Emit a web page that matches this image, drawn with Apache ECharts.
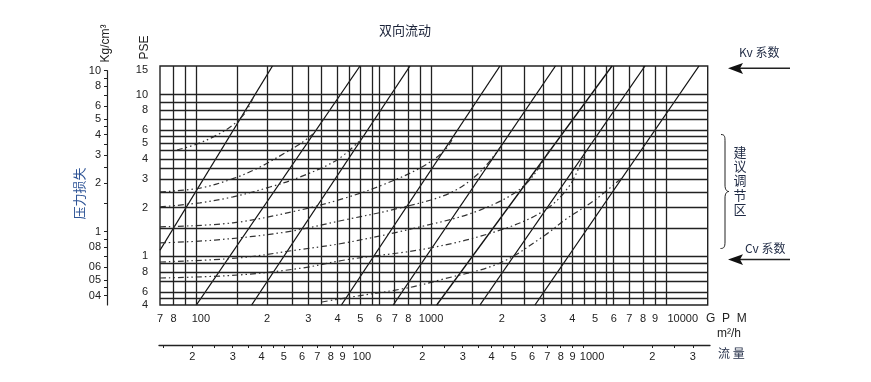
<!DOCTYPE html>
<html><head><meta charset="utf-8">
<script src="https://cdn.jsdelivr.net/npm/echarts@6/dist/echarts.min.js"></script>
<style>html,body{margin:0;padding:0;background:#fff}#c{width:871px;height:382px}</style>
</head><body><div id="c"></div>
<script>
// ---- valve size lines (flow in GPM, pressure drop in PSE) ----
const valveSizes   = ['2', '3', '4', '6', '8', '10', '12', '16'];
const lineTopFlow  = [211, 498, 813, 1966, 3388, 5903, 8154, 13850];
const lineTopPress = [15, 15, 15, 15, 15, 15, 15, 15];
const lineLowFlow  = [70, 100, 172, 415, 690, 1057, 1616, 2771];
const lineLowPress = [1.09, 0.5, 0.5, 0.5, 0.5, 0.5, 0.5, 0.5];

// ---- recommended regulating zone curves (dash-dot) ----
const zone2Flow  = [82.7, 100.6, 122.4, 143.2, 161.1, 174.3];
const zone2Press = [4.54, 4.94, 5.62, 6.48, 7.68, 9.51];
const zone3Flow  = [70, 103.6, 146, 186.6, 238.5, 276.3, 314];
const zone3Press = [2.50, 2.64, 3.05, 3.56, 4.35, 4.94, 5.70];
const zone4Flow  = [70, 103.6, 143.2, 205.9, 276.3, 397.2, 500];
const zone4Press = [2.02, 2.14, 2.33, 2.68, 3.09, 3.94, 5.23];
const zone6Flow  = [70, 143.2, 276.3, 429.7, 605.8, 896.8, 1146.8, 1275];
const zone6Press = [1.52, 1.61, 1.93, 2.29, 2.72, 3.51, 4.54, 5.87];
const zone8Flow  = [70, 120, 238.5, 429.7, 737, 1204, 1616, 2030];
const zone8Press = [1.21, 1.26, 1.41, 1.68, 1.99, 2.46, 3.32, 5.01];
const zone10Flow  = [70, 150.4, 263.1, 429.7, 896.8, 1616, 2513, 3250];
const zone10Press = [0.922, 0.976, 1.09, 1.21, 1.52, 1.93, 2.76, 4.74];
const zone12Flow  = [70, 150.4, 281.8, 429.7, 989.5, 1966, 3058, 3908, 4480];
const zone12Press = [0.734, 0.766, 0.846, 0.949, 1.125, 1.45, 1.93, 2.76, 4.23];
const zone16Flow  = [342.9, 429.7, 789.7, 1091, 1966, 3058, 3720, 4993, 6560];
const zone16Press = [0.522, 0.552, 0.637, 0.714, 0.909, 1.35, 1.68, 2.23, 3.09];
const zoneFlows  = [zone2Flow, zone3Flow, zone4Flow, zone6Flow, zone8Flow, zone10Flow, zone12Flow, zone16Flow];
const zonePresses = [zone2Press, zone3Press, zone4Press, zone6Press, zone8Press, zone10Press, zone12Press, zone16Press];

// ---- grid lines ----
const gpmGridValues = [80, 90, 100, 150, 200, 255, 300, 340, 400, 450, 500, 560, 600, 700, 800, 900, 1000,
  1500, 2000, 2500, 3000, 3600, 4000, 4500, 5000, 5600, 6000, 7000, 8000, 9000, 10000];
const pseGridValues = [10, 9, 8, 7, 6, 5.5, 5, 4.5, 4, 3.5, 3, 2.5, 2, 1.5, 1, 0.9, 0.8, 0.7, 0.6, 0.55];

// ---- tick labels ----
const gpmLabelValues = [70, 80, 100, 200, 300, 400, 500, 600, 700, 800, 1000, 2000, 3000, 4000, 5000, 6000, 7000, 8000, 9000, 10000];
const gpmLabelTexts  = ['7', '8', '100', '2', '3', '4', '5', '6', '7', '8', '1000', '2', '3', '4', '5', '6', '7', '8', '9', '10000'];
const pseLabelValues = [15, 10, 8, 6, 5, 4, 3, 2, 1, 0.8, 0.6, 0.5];
const pseLabelTexts  = ['15', '10', '8', '6', '5', '4', '3', '2', '1', '8', '6', '4'];
const kgTickValues   = [10, 9, 8, 7, 6, 5, 4.5, 4, 3.5, 3, 2.5, 2, 1.5, 1, 0.9, 0.8, 0.7, 0.6, 0.5, 0.45, 0.4];
const kgLabelValues  = [10, 8, 6, 5, 4, 3, 2, 1, 0.8, 0.6, 0.5, 0.4];
const kgLabelTexts   = ['10', '8', '6', '5', '4', '3', '2', '1', '08', '06', '05', '04'];
const m3hTickValues  = [15, 20, 25, 30, 35, 40, 45, 50, 60, 70, 80, 90, 100, 150, 200, 250, 300, 350, 400, 450, 500,
  600, 700, 800, 900, 1000, 1500, 2000, 2500, 3000];
const m3hLabelValues = [20, 30, 40, 50, 60, 70, 80, 90, 100, 200, 300, 400, 500, 600, 700, 800, 900, 1000, 2000, 3000];
const m3hLabelTexts  = ['2', '3', '4', '5', '6', '7', '8', '9', '100', '2', '3', '4', '5', '6', '7', '8', '9', '1000', '2', '3'];

const LATIN = "'Liberation Sans', Arial, 'Noto Sans CJK SC', sans-serif";
const CJK = "'Noto Sans CJK SC', 'Liberation Sans', sans-serif";
const INK = '#222';

function lookup(values, texts) {
  return function (v) {
    for (let i = 0; i < values.length; i++) {
      if (Math.abs(Math.log(v / values[i])) < 0.005) return texts[i];
    }
    return '';
  };
}
const gpmText = lookup(gpmLabelValues, gpmLabelTexts);
const m3hText = lookup(m3hLabelValues, m3hLabelTexts);
const pseText = lookup(pseLabelValues, pseLabelTexts);

const chart = echarts.init(document.getElementById('c'), null, { renderer: 'canvas' });

const series = [];
series.push({
  type: 'line', xAxisIndex: 0, yAxisIndex: 0, data: [], silent: true,
  markLine: {
    silent: true, symbol: ['none', 'none'], animation: false,
    label: { show: false },
    lineStyle: { color: INK, width: 1.3, type: 'solid' },
    data: gpmGridValues.map(v => ({ xAxis: v })).concat(pseGridValues.map(v => ({ yAxis: v })))
  }
});
valveSizes.forEach((s, i) => {
  series.push({
    type: 'line', xAxisIndex: 0, yAxisIndex: 0, silent: true, symbol: 'none',
    lineStyle: { color: '#111', width: 1.3 },
    data: [
      { value: [lineLowFlow[i], lineLowPress[i]] },
      { value: [lineTopFlow[i], lineTopPress[i]],
        label: { show: true, position: 'top', distance: 3, formatter: s, color: INK, fontSize: 11, fontFamily: LATIN } }
    ]
  });
});
zoneFlows.forEach((fl, i) => {
  series.push({
    type: 'line', xAxisIndex: 0, yAxisIndex: 0, silent: true, symbol: 'none', smooth: 0.35,
    lineStyle: { color: '#333', width: 1.2, type: [6, 3, 1.5, 3, 1.5, 3] },
    data: fl.map((q, j) => [q, zonePresses[i][j]])
  });
});

const option = {
  animation: false,
  backgroundColor: '#fff',
  grid: [
    { left: 160, top: 66, width: 547.7, height: 239, show: true, borderColor: INK, borderWidth: 1.4, containLabel: false },
    { left: 107, top: 70.7, width: 1, height: 234.3, show: false },
    { left: 159, top: 344, width: 551, height: 1, show: false }
  ],
  xAxis: [
    { type: 'log', gridIndex: 0, min: 70, max: 15090, position: 'bottom',
      axisLine: { show: false }, axisTick: { show: false }, splitLine: { show: false }, minorTick: { show: false },
      axisLabel: { customValues: gpmLabelValues, margin: 8, color: INK, fontSize: 11, fontFamily: LATIN,
        formatter: v => { const t = gpmText(v); return t === '100' ? '{a|100}' : (t === '10000' ? '{b|10000}' : t); },
        rich: { a: { padding: [0, 0, 0, 9], fontSize: 11, color: INK, fontFamily: LATIN },
                b: { padding: [0, 0, 0, 34], fontSize: 11, color: INK, fontFamily: LATIN } } } },
    { type: 'value', gridIndex: 1, show: false },
    { type: 'log', gridIndex: 2, min: 14.34, max: 3565, position: 'bottom',
      axisLine: { show: true, lineStyle: { color: INK, width: 1.3 } },
      axisTick: { show: true, customValues: m3hTickValues, length: 3, inside: false, lineStyle: { color: INK, width: 1 } },
      splitLine: { show: false }, minorTick: { show: false },
      axisLabel: { customValues: m3hLabelValues, margin: 6, color: INK, fontSize: 11, fontFamily: LATIN,
        formatter: v => { const t = m3hText(v); return (t === '100' || t === '1000') ? '{a|' + t + '}' : t; },
        rich: { a: { padding: [0, 0, 0, 18], fontSize: 11, color: INK, fontFamily: LATIN } } } }
  ],
  yAxis: [
    { type: 'log', gridIndex: 0, min: 0.5, max: 15,
      axisLine: { show: false }, axisTick: { show: false }, splitLine: { show: false }, minorTick: { show: false },
      axisLabel: { customValues: pseLabelValues, margin: 12, color: INK, fontSize: 11, fontFamily: LATIN,
        formatter: v => { const t = pseText(v); return t === '15' ? '{t|15}' : t; },
        rich: { t: { padding: [8, 0, 0, 0], fontSize: 11, color: INK, fontFamily: LATIN } } } },
    { type: 'log', gridIndex: 1, min: 0.35, max: 10, position: 'left',
      axisLine: { show: true, lineStyle: { color: INK, width: 1.2 } },
      axisTick: { show: true, customValues: kgTickValues, length: 3, inside: false, lineStyle: { color: INK, width: 1 } },
      splitLine: { show: false }, minorTick: { show: false },
      axisLabel: { customValues: kgLabelValues, margin: 6, color: INK, fontSize: 11, fontFamily: LATIN,
        formatter: lookup(kgLabelValues, kgLabelTexts) } },
    { type: 'value', gridIndex: 2, show: false }
  ],
  series: series,
  graphic: [
    { type: 'text', x: 105.5, y: 43.5, rotation: Math.PI / 2,
      style: { text: 'Kg/cm³', fill: INK, font: '12px ' + LATIN, textAlign: 'center', textVerticalAlign: 'middle', align: 'center', verticalAlign: 'middle' } },
    { type: 'text', x: 144.5, y: 47.5, rotation: Math.PI / 2,
      style: { text: 'PSE', fill: INK, font: '12px ' + LATIN, textAlign: 'center', textVerticalAlign: 'middle', align: 'center', verticalAlign: 'middle' } },
    { type: 'text', x: 79, y: 193.5, rotation: Math.PI / 2,
      style: { text: '压力损失', fill: '#2f5597', font: '13px ' + CJK, textAlign: 'center', textVerticalAlign: 'middle', align: 'center', verticalAlign: 'middle' } },
    { type: 'text', x: 405, y: 30,
      style: { text: '双向流动', fill: '#1a2238', font: '13px ' + CJK, textAlign: 'center', textVerticalAlign: 'middle', align: 'center', verticalAlign: 'middle' } },
    { type: 'text', x: 739, y: 52.7,
      style: { text: 'Kv 系数', fill: '#1f2a44', font: '12px ' + CJK, textAlign: 'left', textVerticalAlign: 'middle', align: 'left', verticalAlign: 'middle' } },
    { type: 'text', x: 745, y: 248.3,
      style: { text: 'Cv 系数', fill: '#1f2a44', font: '12px ' + CJK, textAlign: 'left', textVerticalAlign: 'middle', align: 'left', verticalAlign: 'middle' } },
    { type: 'text', x: 740, y: 180.5,
      style: { text: '建\n议\n调\n节\n区', fill: '#1f2a44', font: '13px ' + CJK, lineHeight: 14.2, textAlign: 'center', textVerticalAlign: 'middle', align: 'center', verticalAlign: 'middle' } },
    { type: 'text', x: 706, y: 318.5,
      style: { text: 'G  P  M', fill: INK, font: '12px ' + LATIN, textAlign: 'left', textVerticalAlign: 'middle', align: 'left', verticalAlign: 'middle' } },
    { type: 'text', x: 717, y: 334,
      style: { text: 'm²/h', fill: INK, font: '12px ' + LATIN, textAlign: 'left', textVerticalAlign: 'middle', align: 'left', verticalAlign: 'middle' } },
    { type: 'text', x: 718, y: 353,
      style: { text: '流 量', fill: '#1f2a44', font: '12px ' + CJK, textAlign: 'left', textVerticalAlign: 'middle', align: 'left', verticalAlign: 'middle' } },
    // arrows
    { type: 'line', shape: { x1: 739, y1: 68.3, x2: 790, y2: 68.3 }, style: { stroke: INK, lineWidth: 1.6 } },
    { type: 'polygon', shape: { points: [[728, 68.3], [743, 63], [740, 68.3], [743, 74]] }, style: { fill: '#111' } },
    { type: 'line', shape: { x1: 739, y1: 259.5, x2: 790, y2: 259.5 }, style: { stroke: INK, lineWidth: 1.6 } },
    { type: 'polygon', shape: { points: [[728, 259.5], [743, 254.2], [740, 259.5], [743, 265]] }, style: { fill: '#111' } },
    // brace
    { type: 'bezierCurve', shape: { x1: 721, y1: 134.5, cpx1: 725, cpy1: 134.5, cpx2: 725, cpy2: 137, x2: 725, y2: 142 }, style: { stroke: INK, lineWidth: 1, fill: null } },
    { type: 'line', shape: { x1: 725, y1: 142, x2: 725, y2: 185 }, style: { stroke: INK, lineWidth: 1 } },
    { type: 'bezierCurve', shape: { x1: 725, y1: 185, cpx1: 725, cpy1: 190, cpx2: 727, cpy2: 191.5, x2: 729, y2: 191.5 }, style: { stroke: INK, lineWidth: 1, fill: null } },
    { type: 'bezierCurve', shape: { x1: 729, y1: 191.5, cpx1: 727, cpy1: 191.5, cpx2: 725, cpy2: 193, x2: 725, y2: 198 }, style: { stroke: INK, lineWidth: 1, fill: null } },
    { type: 'line', shape: { x1: 725, y1: 198, x2: 725, y2: 242 }, style: { stroke: INK, lineWidth: 1 } },
    { type: 'bezierCurve', shape: { x1: 725, y1: 242, cpx1: 725, cpy1: 247, cpx2: 724, cpy2: 248.5, x2: 720.5, y2: 248.5 }, style: { stroke: INK, lineWidth: 1, fill: null } }
  ]
};
chart.setOption(option);
</script>
</body></html>
